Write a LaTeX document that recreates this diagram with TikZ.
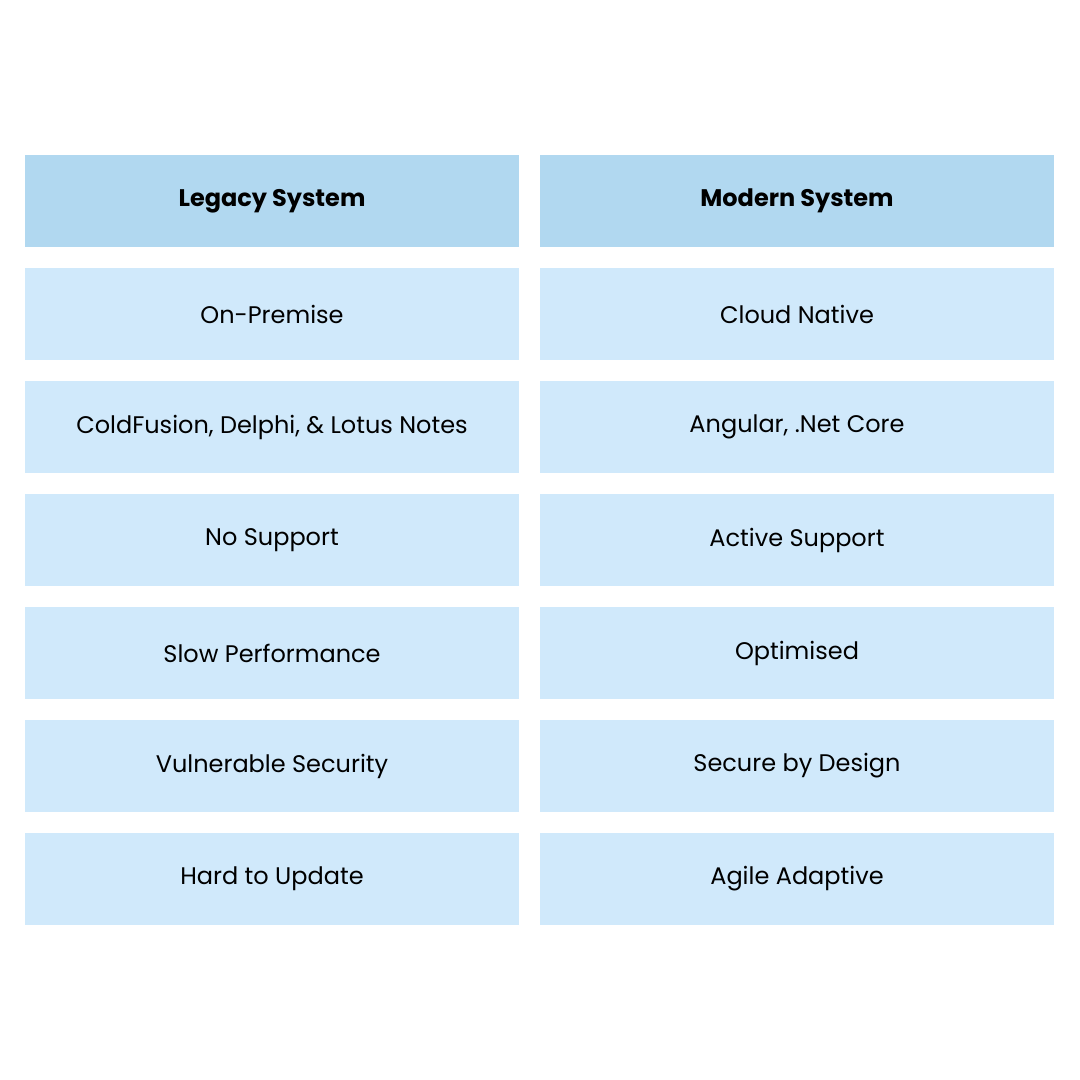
\documentclass[tikz,border=0pt]{standalone}
\usepackage{fontspec}
\setmainfont{Poppins}
\usetikzlibrary{positioning}
\definecolor{headblue}{HTML}{B1D8F0}
\definecolor{cellblue}{HTML}{D0E9FB}

\begin{document}
\begin{tikzpicture}[x=1pt,y=-1pt,
head/.style ={rectangle, fill=headblue, minimum width=494pt, minimum height=92pt, inner sep=0pt, font=\fontsize{24}{28}\selectfont\bfseries},
headr/.style ={head, minimum width=514pt},
cell/.style={rectangle, fill=cellblue, minimum width=494pt, minimum height=92pt, inner sep=0pt, font=\fontsize{24}{28}\selectfont},
cellr/.style={cell, minimum width=514pt}]
\useasboundingbox (0,0) rectangle (1080,1080);

\draw (272,201) node[head] (HL) {Legacy System};
\draw (797,201) node[headr] (HM) {Modern System};

\draw (272,314) node[cell] (L1) {On-Premise};
\draw (797,314) node[cellr] (M1) {Cloud Native};
\draw (272,427) node[cell] (L2) {ColdFusion, Delphi, \& Lotus Notes};
\draw (797,427) node[cellr] (M2) {Angular, .Net Core};
\draw (272,540) node[cell] (L3) {No Support};
\draw (797,540) node[cellr] (M3) {Active Support};
\draw (272,653) node[cell] (L4) {Slow Performance};
\draw (797,653) node[cellr] (M4) {Optimised};
\draw (272,766) node[cell] (L5) {Vulnerable Security};
\draw (797,766) node[cellr] (M5) {Secure by Design};
\draw (272,879) node[cell] (L6) {Hard to Update};
\draw (797,879) node[cellr] (M6) {Agile Adaptive};

\end{tikzpicture}
\end{document}
